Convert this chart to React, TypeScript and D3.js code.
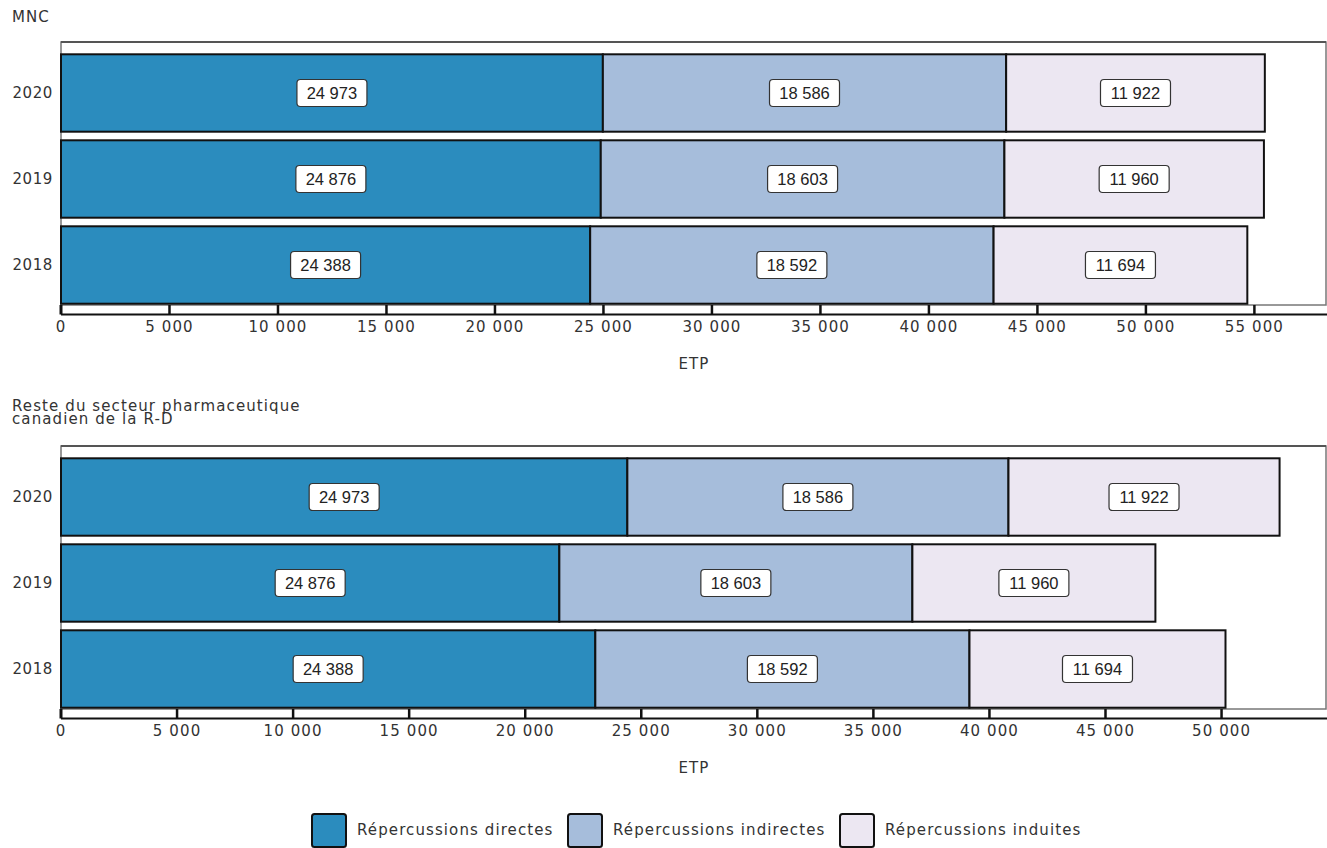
import React from "react";
import * as d3 from "d3";

const years = ["2020", "2019", "2018"];
const seriesNames = ["Répercussions directes", "Répercussions indirectes", "Répercussions induites"];
const colors = ["#2b8cbe", "#a6bddb", "#ece7f2"];

// Panel 1 : MNC
const mncDirect = [24973, 24876, 24388];
const mncIndirect = [18586, 18603, 18592];
const mncInduced = [11922, 11960, 11694];
const mncLabels = [
  ["24 973", "18 586", "11 922"],
  ["24 876", "18 603", "11 960"],
  ["24 388", "18 592", "11 694"],
];
const mncTicks = [0, 5000, 10000, 15000, 20000, 25000, 30000, 35000, 40000, 45000, 50000, 55000];

// Panel 2 : Reste du secteur (bar lengths as drawn; labels as shown)
const restDirect = [24400, 21470, 23020];
const restIndirect = [16420, 15210, 16120];
const restInduced = [11680, 10470, 11030];
const restLabels = [
  ["24 973", "18 586", "11 922"],
  ["24 876", "18 603", "11 960"],
  ["24 388", "18 592", "11 694"],
];
const restTicks = [0, 5000, 10000, 15000, 20000, 25000, 30000, 35000, 40000, 45000, 50000];

const FONT = "'DejaVu Sans', Verdana, sans-serif";
const LABEL_FONT = "'Liberation Sans', Arial, sans-serif";
const FS = 15;
const LS = 1.1;

const fmt = (v: number) => (v === 0 ? "0" : d3.format(",")(v).replace(/,/g, " "));

type PanelProps = {
  offsetY: number;
  titleLines: string[];
  direct: number[];
  indirect: number[];
  induced: number[];
  labels: string[][];
  ticks: number[];
  xMax: number;
};

function Panel({ offsetY, titleLines, direct, indirect, induced, labels, ticks, xMax }: PanelProps) {
  const left = 61;
  const right = 1326;
  const frameTop = 42;
  const frameBottom = 305;
  const axisY = 314.5;
  const x = d3.scaleLinear().domain([0, xMax]).range([left, right]);
  const y = d3
    .scaleBand<string>()
    .domain(years)
    .range([50, 308])
    .paddingInner(0.1)
    .paddingOuter(0.05);

  const rows = years.map((yr, i) => ({ yr, vals: [direct[i], indirect[i], induced[i]], labels: labels[i] }));
  const stack = d3.stack<any>().keys(["0", "1", "2"])(
    rows.map((r) => ({ "0": r.vals[0], "1": r.vals[1], "2": r.vals[2] }))
  );

  return (
    <g transform={`translate(0,${offsetY})`}>
      {titleLines.map((t, i) => (
        <text
          key={i}
          x={12}
          y={titleLines.length > 1 ? 7 + i * 12.5 : 22}
          fontFamily={FONT}
          fontSize={FS}
          letterSpacing={LS}
          fill="#333"
        >
          {t}
        </text>
      ))}
      <rect x={left} y={frameTop} width={right - left} height={frameBottom - frameTop} fill="#fff" stroke="#777" strokeWidth={1.5} />
      <line x1={left} x2={right} y1={frameTop} y2={frameTop} stroke="#555" strokeWidth={2} />
      {stack.map((layer, si) =>
        layer.map((seg, ri) => (
          <rect
            key={`${si}-${ri}`}
            x={x(seg[0])}
            y={y(years[ri])!}
            width={x(seg[1]) - x(seg[0])}
            height={y.bandwidth()}
            fill={colors[si]}
            stroke="#111"
            strokeWidth={2}
          />
        ))
      )}
      {stack.map((layer, si) =>
        layer.map((seg, ri) => {
          const cx = (x(seg[0]) + x(seg[1])) / 2;
          const cy = y(years[ri])! + y.bandwidth() / 2;
          const lab = rows[ri].labels[si];
          const w = lab.length * 9 + 16;
          return (
            <g key={`l${si}-${ri}`}>
              <rect x={cx - w / 2} y={cy - 13.5} width={w} height={27} rx={3.5} fill="#fff" stroke="#333" strokeWidth={1.2} />
              <text x={cx} y={cy} textAnchor="middle" dominantBaseline="central" fontFamily={LABEL_FONT} fontSize={16.5} fill="#222">
                {lab}
              </text>
            </g>
          );
        })
      )}
      {years.map((yr) => (
        <text
          key={yr}
          x={53}
          y={y(yr)! + y.bandwidth() / 2}
          textAnchor="end"
          dominantBaseline="central"
          fontFamily={FONT}
          fontSize={FS}
          letterSpacing={0.6}
          fill="#333"
        >
          {yr}
        </text>
      ))}
      <line x1={left} x2={1327} y1={axisY} y2={axisY} stroke="#111" strokeWidth={2} />
      {ticks.map((t) => (
        <g key={t}>
          <line x1={x(t)} x2={x(t)} y1={frameBottom} y2={axisY} stroke="#111" strokeWidth={t === 0 ? 3 : 2.5} />
          <text
            x={x(t)}
            y={327}
            textAnchor="middle"
            dominantBaseline="central"
            fontFamily={FONT}
            fontSize={FS}
            letterSpacing={LS}
            fill="#333"
          >
            {fmt(t)}
          </text>
        </g>
      ))}
      <text x={694} y={364} textAnchor="middle" dominantBaseline="central" fontFamily={FONT} fontSize={FS} letterSpacing={LS} fill="#333">
        ETP
      </text>
    </g>
  );
}

export default function App() {
  const legendX = [312, 568, 840];
  return (
    <svg width={1327} height={848} style={{ position: "absolute", left: 0, top: 0, background: "#fff" }}>
      <rect width={1327} height={848} fill="#fff" />
      <Panel
        offsetY={0}
        titleLines={["MNC"]}
        direct={mncDirect}
        indirect={mncIndirect}
        induced={mncInduced}
        labels={mncLabels}
        ticks={mncTicks}
        xMax={58300}
      />
      <Panel
        offsetY={404}
        titleLines={["Reste du secteur pharmaceutique", "canadien de la R-D"]}
        direct={restDirect}
        indirect={restIndirect}
        induced={restInduced}
        labels={restLabels}
        ticks={restTicks}
        xMax={54500}
      />
      {seriesNames.map((name, i) => (
        <g key={name}>
          <rect x={legendX[i]} y={814} width={34} height={33} rx={2.5} fill={colors[i]} stroke="#111" strokeWidth={2} />
          <text
            x={legendX[i] + 45}
            y={830}
            dominantBaseline="central"
            fontFamily={FONT}
            fontSize={FS}
            letterSpacing={LS}
            fill="#333"
          >
            {name}
          </text>
        </g>
      ))}
    </svg>
  );
}
